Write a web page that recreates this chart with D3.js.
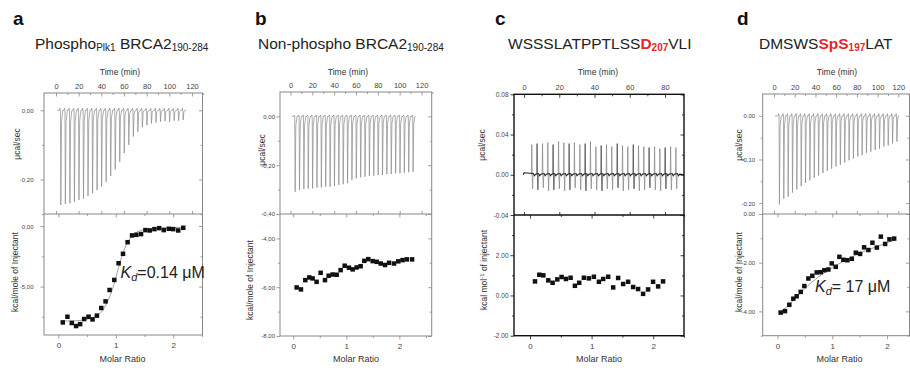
<!DOCTYPE html>
<html><head><meta charset="utf-8">
<script src="https://cdn.jsdelivr.net/npm/d3@7"></script>
<style>body{margin:0;background:#fff} svg{display:block;font-family:"Liberation Sans",Arial,sans-serif}</style>
</head><body><svg id="chart" width="910" height="372"></svg>
<script>
// ---------------- DATA ----------------
const timeMajor = [0, 20, 40, 60, 80, 100, 120];
const timeMinor = [10, 30, 50, 70, 90, 110, 130];
const timeMajorC = [0, 20, 40, 60, 80];
const timeMinorC = [10, 30, 50, 70, 90];
const ratioMajor = [0, 1, 2];
const ratioMinor = [0.5, 1.5, 2.5];

// panel a : Phospho(Plk1) BRCA2 190-284
const aInjTime = [4, 8, 12, 16, 20, 24, 28, 32, 36, 40, 44, 48, 52, 56, 60, 64, 68, 72, 76, 80, 84, 88, 92, 96, 100, 104, 108, 112];
const aPeak = [-0.274, -0.271, -0.269, -0.264, -0.259, -0.255, -0.248, -0.240, -0.231, -0.221, -0.207, -0.190, -0.171, -0.149,
  -0.124, -0.100, -0.076, -0.062, -0.049, -0.043, -0.038, -0.035, -0.033, -0.031, -0.033, -0.030, -0.030, -0.028];
const aRatio = [0.077, 0.158, 0.234, 0.309, 0.379, 0.449, 0.525, 0.595, 0.671, 0.747, 0.822, 0.892, 0.974, 1.049,
  1.126, 1.206, 1.283, 1.358, 1.440, 1.516, 1.591, 1.673, 1.755, 1.836, 1.923, 2.000, 2.087, 2.175];
const aHeat = [-7.96, -7.49, -8.01, -8.26, -8.10, -7.68, -7.49, -7.71, -7.40, -6.77, -6.22, -5.28, -4.45, -3.07,
  -2.29, -1.33, -0.77, -0.72, -0.66, -0.33, -0.36, -0.25, -0.17, -0.33, -0.22, -0.25, -0.36, -0.14];
const aFitRatio = [0.05, 0.3, 0.5, 0.65, 0.75, 0.85, 0.95, 1.05, 1.15, 1.25, 1.35, 1.5, 1.75, 2.0, 2.2];
const aFitHeat = [-7.85, -7.82, -7.7, -7.45, -7.1, -6.3, -5.1, -3.4, -1.9, -1.0, -0.55, -0.3, -0.17, -0.12, -0.1];
const aRawTicks = [0, -0.2], aRawLabels = ["0,00", "-0,20"], aRawMinor = [-0.1, -0.3];
const aHeatTicks = [0, -5], aHeatLabels = ["0,00", "-5,00"], aHeatMinor = [-2.5, -7.5];

// panel b : Non-phospho BRCA2 190-284
const bInjTime = [4, 8, 12, 16, 20, 24, 28, 32, 36, 40, 44, 48, 52, 56, 60, 64, 68, 72, 76, 80, 84, 88, 92, 96, 100, 104, 108, 112];
const bPeak = [-0.309, -0.302, -0.298, -0.296, -0.295, -0.292, -0.291, -0.288, -0.288, -0.285, -0.281, -0.278, -0.274, -0.261,
  -0.254, -0.250, -0.247, -0.244, -0.243, -0.240, -0.240, -0.237, -0.236, -0.233, -0.233, -0.231, -0.229, -0.227];
const bRatio = [0.064, 0.145, 0.227, 0.302, 0.365, 0.440, 0.516, 0.598, 0.667, 0.742, 0.818, 0.893, 0.969, 1.050,
  1.120, 1.195, 1.270, 1.340, 1.415, 1.497, 1.573, 1.649, 1.730, 1.806, 1.900, 1.980, 2.060, 2.140, 2.240];
const bHeat = [-6.01, -6.09, -5.71, -5.60, -5.64, -5.78, -5.41, -5.71, -5.53, -5.48, -5.49, -5.30, -5.12, -5.20,
  -5.27, -5.19, -5.14, -4.92, -4.85, -4.93, -4.96, -5.03, -5.09, -5.00, -5.03, -4.94, -4.89, -4.86, -4.86];
const bRawTicks = [0, -0.2, -0.4], bRawLabels = ["0,00", "-0,20", "-0,40"], bRawMinor = [-0.1, -0.3];
const bHeatTicks = [-4, -6, -8], bHeatLabels = ["-4,00", "-6,00", "-8,00"], bHeatMinor = [-5, -7];

// panel c : WSSSLATPPTLSS D207 VLI
const cInjTime = [4.4, 7.4, 10.5, 13.5, 16.5, 19.6, 22.6, 25.6, 28.6, 31.7, 34.7, 37.7, 40.8, 43.8, 46.8, 49.8, 52.9, 55.9,
  58.9, 62.0, 65.0, 68.0, 71.0, 74.1, 77.1, 80.1, 83.2, 86.2];
const cUp = [0.030, 0.031, 0.031, 0.032, 0.030, 0.033, 0.032, 0.031, 0.032, 0.030, 0.031, 0.033, 0.028, 0.029,
  0.030, 0.028, 0.031, 0.029, 0.028, 0.030, 0.029, 0.028, 0.027, 0.028, 0.026, 0.027, 0.028, 0.027];
const cDown = [-0.014, -0.015, -0.013, -0.016, -0.015, -0.014, -0.016, -0.015, -0.013, -0.015, -0.016, -0.014, -0.015, -0.016,
  -0.014, -0.015, -0.013, -0.016, -0.015, -0.014, -0.016, -0.015, -0.013, -0.015, -0.016, -0.014, -0.015, -0.014];
const cRatio = [0.081, 0.151, 0.216, 0.297, 0.367, 0.443, 0.513, 0.583, 0.659, 0.729, 0.799, 0.875, 0.956, 1.037,
  1.118, 1.188, 1.269, 1.350, 1.431, 1.512, 1.593, 1.674, 1.755, 1.836, 1.917, 1.998, 2.080, 2.160];
const cHeat = [0.70, 1.03, 1.00, 0.75, 0.63, 0.80, 0.92, 0.82, 0.88, 0.48, 0.63, 0.88, 0.85, 0.93,
  0.68, 0.82, 0.93, 0.40, 0.87, 0.57, 0.68, 0.42, 0.32, 0.08, 0.30, 0.68, 0.45, 0.70];
const cRawTicks = [0.08, 0.04, 0, -0.04], cRawLabels = ["0.08", "0.04", "0.00", "-0.04"], cRawMinor = [0.06, 0.02, -0.02];
const cHeatTicks = [2, 0, -2], cHeatLabels = ["2.00", "0.00", "-2.00"], cHeatMinor = [3, 1, -1];

// panel d : DMSWS SpS197 LAT
const dInjTime = [5.0, 9.2, 13.4, 17.6, 21.8, 26.0, 30.2, 34.4, 38.6, 42.8, 47.0, 51.2, 55.4, 59.6, 63.8, 68.0, 72.2, 76.4,
  80.6, 84.8, 89.0, 93.2, 97.4, 101.6, 105.8, 110.0, 114.2, 118.4];
const dPeak = [-0.203, -0.190, -0.185, -0.176, -0.169, -0.161, -0.154, -0.148, -0.142, -0.137, -0.131, -0.126, -0.121, -0.116,
  -0.112, -0.107, -0.102, -0.098, -0.093, -0.090, -0.085, -0.082, -0.078, -0.075, -0.070, -0.068, -0.063, -0.059];
const dRatio = [0.058, 0.137, 0.216, 0.289, 0.350, 0.424, 0.490, 0.563, 0.636, 0.716, 0.790, 0.856, 0.929, 0.990,
  1.064, 1.130, 1.203, 1.276, 1.356, 1.430, 1.508, 1.581, 1.660, 1.733, 1.814, 1.887, 1.965, 2.044, 2.130];
const dHeat = [-4.05, -3.99, -3.73, -3.48, -3.38, -3.20, -2.96, -2.65, -2.54, -2.40, -2.39, -2.31, -2.28, -2.03,
  -2.17, -1.76, -1.88, -1.90, -1.84, -1.59, -1.64, -1.37, -1.48, -1.18, -1.38, -0.93, -1.23, -1.04, -1.01];
const dFitRatio = [0.05, 0.2, 0.4, 0.6, 0.8, 1.0, 1.2, 1.4, 1.6, 1.8, 2.0, 2.15];
const dFitHeat = [-4.05, -3.75, -3.3, -2.85, -2.5, -2.2, -1.95, -1.72, -1.52, -1.35, -1.18, -1.06];
const dRawTicks = [0, -0.1, -0.2], dRawLabels = ["0.00", "-0.10", "-0.20"], dRawMinor = [-0.05, -0.15];
const dHeatTicks = [0, -2, -4], dHeatLabels = ["0.00", "-2.00", "-4.00"], dHeatMinor = [-1, -3, -5];

// ---------------- DRAW ----------------
const svg = d3.select("#chart");
const FONT = '"Liberation Sans", Arial, sans-serif';

function styleAxis(g, fs, col) {
  g.select(".domain").remove();
  g.attr("font-family", FONT).attr("font-size", fs);
  g.selectAll("line").attr("stroke", col).attr("stroke-width", 0.8);
  g.selectAll("text").attr("fill", "#444");
}
function addAxis(gen, scale, vals, labels, size, pad, tx, ty, fs, col) {
  const ax = gen(scale).tickValues(vals).tickSizeInner(size).tickSizeOuter(0).tickPadding(pad)
    .tickFormat((d, i) => labels ? labels[i] : "");
  const g = svg.append("g").attr("transform", `translate(${tx},${ty})`).call(ax);
  styleAxis(g, fs, col);
  return g;
}

function panel(c) {
  const xT = d3.scaleLinear().domain(c.tDom).range([c.x0, c.x1]);
  const yR = d3.scaleLinear().domain(c.rawDom).range([c.yMid, c.yTop]);
  const xM = d3.scaleLinear().domain(c.rDom).range([c.x0, c.x1]);
  const yH = d3.scaleLinear().domain(c.hDom).range([c.yBot, c.yMid]);
  const col = c.boxCol;

  // raw trace
  const clipId = "clip" + c.id;
  svg.append("clipPath").attr("id", clipId).append("rect")
    .attr("x", c.x0).attr("y", c.yTop).attr("width", c.x1 - c.x0).attr("height", c.yMid - c.yTop);
  const line = d3.line().x(d => xT(d[0])).y(d => yR(d[1]));
  if (c.type === "exo") {
    const pts = [[c.tStart, 0]];
    c.inj.forEach((t, i) => {
      pts.push([t - 0.9, 0]);
      pts.push([t - 0.5, c.bump]);
      pts.push([t - 0.1, 0]);
      pts.push([t + 0.25, c.peak[i]]);
      pts.push([t + 0.9, c.peak[i] * 0.12]);
      pts.push([t + 2.0, 0]);
    });
    pts.push([c.tEnd, 0]);
    svg.append("path").attr("clip-path", `url(#${clipId})`).attr("d", line(pts))
      .attr("fill", "none").attr("stroke", "#8a8a8a").attr("stroke-width", 0.7);
  } else {
    // spikes (light) drawn per injection
    const sp = svg.append("g").attr("clip-path", `url(#${clipId})`);
    c.inj.forEach((t, i) => {
      const pts = [[t - 0.2, 0], [t, c.up[i]], [t + 0.2, 0.0], [t + 0.45, c.down[i]], [t + 0.7, 0]];
      sp.append("path").attr("d", line(pts)).attr("fill", "none")
        .attr("stroke", i % 3 === 1 ? "#444" : "#888").attr("stroke-width", 0.75);
    });
    // dark noisy baseline
    const base = [[c.tStart, 0], [c.tStart + 0.5, 0.002]];
    c.inj.forEach((t) => {
      base.push([t + 0.9, 0.0012]);
      base.push([t + 1.5, -0.001]);
      base.push([t + 2.2, 0.0006]);
    });
    base.push([c.tEnd, 0]);
    svg.append("path").attr("d", line(base)).attr("fill", "none").attr("stroke", "#222").attr("stroke-width", 1.1);
  }

  // fit line
  if (c.fitR) {
    const fl = d3.line().curve(d3.curveMonotoneX).x((d, i) => xM(c.fitR[i])).y((d, i) => yH(c.fitH[i]));
    svg.append("path").attr("d", fl(c.fitR)).attr("fill", "none").attr("stroke", "#8a8a8a").attr("stroke-width", 0.8);
  }
  // points
  const s = c.sq;
  svg.append("g").selectAll("rect").data(c.ratio).join("rect")
    .attr("x", (d) => xM(d) - s / 2).attr("y", (d, i) => yH(c.heat[i]) - s / 2)
    .attr("width", s).attr("height", s).attr("fill", "#111");

  // frame
  svg.append("rect").attr("x", c.x0).attr("y", c.yTop).attr("width", c.x1 - c.x0).attr("height", c.yBot - c.yTop)
    .attr("fill", "none").attr("stroke", col).attr("stroke-width", c.boxW);
  svg.append("line").attr("x1", c.x0).attr("x2", c.x1).attr("y1", c.yMid).attr("y2", c.yMid)
    .attr("stroke", col).attr("stroke-width", c.boxW);

  const tm = c.tMajor, tn = c.tMinor;
  addAxis(d3.axisTop, xT, tm, tm.map(String), -3.5, 4, 0, c.yTop, 7.5, col);
  addAxis(d3.axisTop, xT, tn, null, -2, 0, 0, c.yTop, 7.5, col);
  addAxis(d3.axisBottom, xT, tm, null, -3, 0, 0, c.yMid, 7, col);
  addAxis(d3.axisLeft, yR, c.rawTicks, c.rawLabels, 3.5, c.lpad, c.x0, 0, c.lfs, col);
  addAxis(d3.axisLeft, yR, c.rawMinor, null, 2, 0, c.x0, 0, c.lfs, col);
  addAxis(d3.axisRight, yR, c.rawTicks, null, -3.5, 0, c.x1, 0, c.lfs, col);
  addAxis(d3.axisRight, yR, c.rawMinor, null, -2, 0, c.x1, 0, c.lfs, col);
  addAxis(d3.axisLeft, yH, c.heatTicks, c.heatLabels, 3.5, c.lpad, c.x0, 0, c.lfs, col);
  addAxis(d3.axisLeft, yH, c.heatMinor, null, 2, 0, c.x0, 0, c.lfs, col);
  addAxis(d3.axisRight, yH, c.heatTicks, null, -3.5, 0, c.x1, 0, c.lfs, col);
  addAxis(d3.axisRight, yH, c.heatMinor, null, -2, 0, c.x1, 0, c.lfs, col);
  addAxis(d3.axisBottom, xM, ratioMajor, ratioMajor.map(String), 3.5, 4, 0, c.yBot, 8, col);
  addAxis(d3.axisBottom, xM, ratioMinor, null, 2, 0, 0, c.yBot, 8, col);
  addAxis(d3.axisTop, xM, ratioMajor, null, -3.5, 0, 0, c.yMid, 8, col);
  addAxis(d3.axisTop, xM, ratioMinor, null, -2, 0, 0, c.yMid, 8, col);

  const txt = (x, y, s, fs, anchor) => svg.append("text").attr("x", x).attr("y", y).attr("font-size", fs)
    .attr("fill", "#333").attr("text-anchor", anchor || "middle").text(s);
  txt(c.timeLblX, 75, "Time (min)", 8.5);
  txt(c.molLblX, 362, "Molar Ratio", 9);
  svg.append("text").attr("transform", `translate(${c.ucalPos[0]},${c.ucalPos[1]}) rotate(-90)`)
    .attr("text-anchor", "middle").attr("font-size", 8.5).attr("fill", "#333").text("μcal/sec");
  const kl = svg.append("text").attr("transform", `translate(${c.kcalPos[0]},${c.kcalPos[1]}) rotate(-90)`)
    .attr("text-anchor", "middle").attr("font-size", 8.5).attr("fill", "#333");
  if (c.kcalSup) {
    kl.append("tspan").text("kcal mol");
    kl.append("tspan").attr("dy", -3).attr("font-size", 6).text("-1");
    kl.append("tspan").attr("dy", 3).text(" of injectant");
  } else kl.text("kcal/mole of Injectant");

  svg.append("text").attr("x", c.letterX).attr("y", 25).attr("font-size", 19).attr("font-weight", "bold")
    .attr("fill", "#111").text(c.id);
  const t = svg.append("text").attr("x", c.titleX).attr("y", 48.5).attr("font-size", 15.5).attr("fill", "#222");
  c.title.forEach(p => {
    const sp = t.append("tspan").text(p.s);
    if (p.sub) sp.attr("font-size", 10).attr("dy", 2.5);
    if (p.back) sp.attr("dy", -2.5);
    if (p.red) sp.attr("fill", "#e8262a").attr("font-weight", "bold");
  });
  if (c.kd) {
    const k = svg.append("text").attr("x", c.kd.x).attr("y", c.kd.y).attr("font-size", 16).attr("fill", "#222");
    k.append("tspan").attr("font-style", "italic").text("K");
    k.append("tspan").attr("font-style", "italic").attr("font-size", 11).attr("dy", 3).text("d");
    k.append("tspan").attr("dy", -3).text(c.kd.s);
  }
}

panel({ id: "a", x0: 44, x1: 202.5, yTop: 93, yMid: 214, yBot: 335, tDom: [-10.6, 129.3], rawDom: [-0.30, 0.05],
  rDom: [-0.25, 2.51], hDom: [-9, 1], type: "exo", inj: aInjTime, peak: aPeak, bump: 0.006, tStart: 1, tEnd: 115,
  ratio: aRatio, heat: aHeat, fitR: aFitRatio, fitH: aFitHeat, sq: 4.5, tMajor: timeMajor, tMinor: timeMinor,
  rawTicks: aRawTicks, rawLabels: aRawLabels, rawMinor: aRawMinor, heatTicks: aHeatTicks, heatLabels: aHeatLabels,
  heatMinor: aHeatMinor, lpad: 7, lfs: 6, boxCol: "#888", boxW: 1, timeLblX: 120, molLblX: 122.5,
  ucalPos: [19.5, 144], kcalPos: [18, 272], letterX: 13, titleX: 35,
  title: [{ s: "Phospho" }, { s: "Plk1", sub: true }, { s: " BRCA2", back: true }, { s: "190-284", sub: true }],
  kd: { x: 120.5, y: 278, s: "=0.14 μM" } });

panel({ id: "b", x0: 280, x1: 431.7, yTop: 92, yMid: 214, yBot: 336, tDom: [-9.6, 129.3], rawDom: [-0.40, 0.10],
  rDom: [-0.25, 2.61], hDom: [-8, -3], type: "exo", inj: bInjTime, peak: bPeak, bump: 0.006, tStart: 1.5, tEnd: 114.5,
  ratio: bRatio, heat: bHeat, sq: 4.5, tMajor: timeMajor, tMinor: timeMinor,
  rawTicks: bRawTicks, rawLabels: bRawLabels, rawMinor: bRawMinor, heatTicks: bHeatTicks, heatLabels: bHeatLabels,
  heatMinor: bHeatMinor, lpad: 1.5, lfs: 6, boxCol: "#888", boxW: 1, timeLblX: 348, molLblX: 356,
  ucalPos: [265, 150], kcalPos: [253, 280], letterX: 255, titleX: 258,
  title: [{ s: "Non-phospho BRCA2" }, { s: "190-284", sub: true }] });

panel({ id: "c", x0: 514, x1: 684, yTop: 94.3, yMid: 215, yBot: 335.7, tDom: [-5.7, 90.8], rawDom: [-0.04, 0.08],
  rDom: [-0.26, 2.50], hDom: [-2, 4], type: "mix", inj: cInjTime, up: cUp, down: cDown, tStart: -0.5, tEnd: 90.8,
  ratio: cRatio, heat: cHeat, sq: 4.5, tMajor: timeMajorC, tMinor: timeMinorC,
  rawTicks: cRawTicks, rawLabels: cRawLabels, rawMinor: cRawMinor, heatTicks: cHeatTicks, heatLabels: cHeatLabels,
  heatMinor: cHeatMinor, lpad: 2, lfs: 6.5, boxCol: "#111", boxW: 1.4, timeLblX: 598, molLblX: 599,
  ucalPos: [485, 145], kcalPos: [487, 270], kcalSup: true, letterX: 495, titleX: 508,
  title: [{ s: "WSSSLATPPTLSS" }, { s: "D", red: true }, { s: "207", red: true, sub: true }, { s: "VLI", back: true }] });

panel({ id: "d", x0: 762.7, x1: 909.5, yTop: 94, yMid: 214, yBot: 335.7, tDom: [-10.9, 130.8], rawDom: [-0.225, 0.05],
  rDom: [-0.27, 2.41], hDom: [-5, 0], type: "exo", inj: dInjTime, peak: dPeak, bump: 0.005, tStart: 1, tEnd: 120,
  ratio: dRatio, heat: dHeat, fitR: dFitRatio, fitH: dFitHeat, sq: 4.5, tMajor: timeMajor, tMinor: timeMinor,
  rawTicks: dRawTicks, rawLabels: dRawLabels, rawMinor: dRawMinor, heatTicks: dHeatTicks, heatLabels: dHeatLabels,
  heatMinor: dHeatMinor, lpad: 4, lfs: 6, boxCol: "#888", boxW: 1, timeLblX: 837, molLblX: 839.5,
  ucalPos: [742, 145], kcalPos: [742, 272], letterX: 737, titleX: 759,
  title: [{ s: "DMSWS" }, { s: "SpS", red: true }, { s: "197", red: true, sub: true }, { s: "LAT", back: true }],
  kd: { x: 815, y: 292, s: "= 17 μM" } });
</script></body></html>
